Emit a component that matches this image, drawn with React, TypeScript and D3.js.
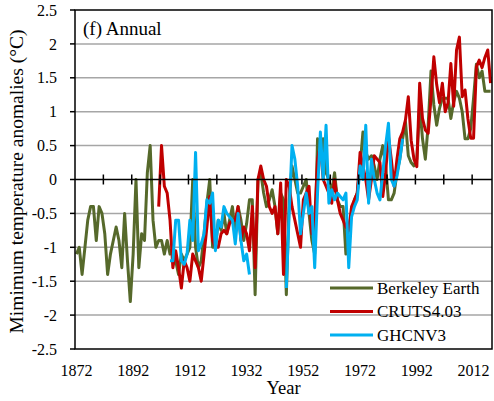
import * as d3 from "d3";

// Annual minimum temperature anomalies (°C)
const berkeleyStart = 1872;
const berkeley = [
  -1.1, -1.0, -1.4, -1.0, -0.6, -0.4, -0.4, -0.9, -0.4, -0.5, // 1872-1881
  -0.8, -1.4, -1.1, -0.9, -0.7, -0.9, -1.3, -0.5, -1.2, -1.8, // 1882-1891
  -1.1, 0.0, -1.3, -0.8, -0.9, 0.1, 0.5, -0.6, -1.0, -0.9, // 1892-1901
  -0.9, -1.1, -0.9, -1.1, -1.0, -1.2, -1.4, -1.1, -1.2, -1.1, // 1902-1911
  -1.0, 0.0, -1.0, -1.3, -1.2, -0.8, -0.35, 0.0, -1.0, -1.0, // 1912-1921
  -0.6, -0.75, -0.5, -0.8, -0.6, -0.4, -0.8, -0.4, -0.6, -0.9, // 1922-1931
  -0.65, -0.3, -0.3, -1.7, 0.0, 0.1, -0.2, -0.4, -0.3, -0.15, // 1932-1941
  -0.4, -0.8, -0.2, -0.3, -1.7, -0.3, 0.2, 0.0, -0.2, -0.2, // 1942-1951
  -0.1, 0.0, -0.5, -0.9, -1.1, 0.6, 0.3, 0.6, 0.1, 0.0, // 1952-1961
  -0.2, 0.1, -0.3, -0.4, -0.4, -1.1, -0.7, -0.5, -0.3, -0.2, // 1962-1971
  0.2, 0.7, 0.4, 0.3, 0.35, 0.2, 0.0, 0.3, 0.5, 0.2, // 1972-1981
  -0.3, -0.3, -0.2, 0.1, 0.3, 0.6, 0.85, 0.35, 0.25, 0.2, // 1982-1991
  0.3, 1.1, 0.6, 0.3, 0.8, 1.6, 1.1, 0.8, 1.05, 1.2, // 1992-2001
  1.2, 1.2, 0.9, 1.15, 1.3, 1.2, 1.0, 0.6, 0.6, 0.75, // 2002-2011
  1.2, 1.7, 1.5, 1.6, 1.3, 1.3, 1.3, // 2012-2018
];

const crutsStart = 1901;
const cruts = [
  -0.4, 0.5, -0.1, -0.2, -0.6, -1.3, -1.05, -1.3, -1.6, -1.2, // 1901-1910
  -1.3, -1.5, -1.1, -1.2, -1.3, -1.5, -1.1, -0.7, -0.25, -0.9, // 1911-1920
  -1.0, -1.0, -0.8, -0.75, -0.8, -0.65, -0.6, -0.6, -0.4, -0.9, // 1921-1930
  -0.7, -0.8, -1.05, -0.4, -1.3, 0.0, 0.2, 0.0, -0.1, -0.4, // 1931-1940
  -0.5, -0.4, -0.8, -0.05, -1.4, 0.0, -0.1, -0.4, -0.6, -0.8, // 1941-1950
  -1.0, -0.3, -0.2, -0.1, -0.8, -0.6, 0.3, 0.5, 0.0, -0.1, // 1951-1960
  -0.2, -0.35, 0.0, -0.3, -0.5, -0.6, -0.7, -0.75, -0.4, -0.3, // 1961-1970
  -0.2, 0.4, 0.2, 0.0, -0.3, 0.0, 0.35, 0.3, 0.25, -0.25, // 1971-1980
  0.1, 0.63, 0.3, -0.1, 0.3, 0.6, 0.7, 0.88, 1.22, 0.58, // 1981-1990
  0.3, 0.19, 1.42, 0.9, 0.73, 0.68, 1.2, 1.81, 1.4, 1.13, // 1991-2000
  1.42, 1.0, 1.13, 1.71, 1.08, 1.91, 2.1, 1.22, 1.32, 0.9, // 2001-2010
  0.61, 0.61, 1.66, 1.76, 1.65, 1.8, 1.91, 1.42, // 2011-2018
];

const ghcnStart = 1905;
const ghcn: (number | null)[] = [
  -1.2, -1.2, -0.6, -0.6, -1.2, -1.25, -1.1, -0.6, -0.9, 0.4, // 1905-1914
  -1.05, -0.95, -0.8, -0.3, -0.35, -0.2, -1.05, -0.6, -0.7, -0.4, // 1915-1924
  -0.5, -0.55, -0.6, -0.95, -0.5, -0.9, -1.2, -1.1, -1.4, null, // 1925-1934
  null, null, null, null, null, null, null, null, null, null, // 1935-1944
  null, -1.6, -0.5, 0.5, 0.3, -0.1, -0.8, -0.5, -0.2, -0.5, // 1945-1954
  -0.4, -1.3, -0.2, 0.7, 0.0, 0.8, -0.35, -0.15, -0.3, -0.2, // 1955-1964
  -0.25, -0.3, -0.2, -1.3, -0.55, -0.4, -0.3, 0.2, 0.0, 0.8, // 1965-1974
  -0.35, 0.3, 0.0, -0.2, -0.3, 0.1, 0.5, 0.83, 0.0, -0.1, // 1975-1984
  0.05, 0.3, 0.6, // 1985-1987
];

const yTicks = [-2.5, -2, -1.5, -1, -0.5, 0, 0.5, 1, 1.5, 2, 2.5];
const xLabels = [1872, 1892, 1912, 1932, 1952, 1972, 1992, 2012];

const series = [
  { name: "Berkeley Earth", start: berkeleyStart, values: berkeley, color: "#56692b" },
  { name: "CRUTS4.03", start: crutsStart, values: cruts, color: "#c00000" },
  { name: "GHCNV3", start: ghcnStart, values: ghcn, color: "#00b0f0" },
];

const W = 494;
const H = 401;
const m = { left: 75, right: 492, top: 10, bottom: 349 };
const font = "'Liberation Serif', 'Times New Roman', serif";

export default function App() {
  const x = d3.scaleLinear().domain([1871.5, 2018.5]).range([m.left, m.right]);
  const y = d3.scaleLinear().domain([-2.5, 2.5]).range([m.bottom, m.top]);

  const line = d3
    .line<[number, number | null]>()
    .defined((d) => d[1] !== null)
    .x((d) => x(d[0]))
    .y((d) => y(d[1] as number));

  // tick marks sit on the category boundaries every 10 years
  const decadeTicks = d3.range(1881.5, 2018, 10);

  return (
    <svg
      width={W}
      height={H}
      style={{ position: "absolute", left: 0, top: 0, background: "#fff" }}
      fontFamily={font}
    >
      {/* grid */}
      {yTicks
        .filter((t) => t !== 0 && t !== 2.5 && t !== -2.5)
        .map((t) => (
          <line key={t} x1={m.left} x2={m.right} y1={y(t)} y2={y(t)} stroke="#a6a6a6" strokeWidth={1.5} />
        ))}

      {/* series */}
      {series.map((s) => (
        <path
          key={s.name}
          d={line(s.values.map((v, i) => [s.start + i, v] as [number, number | null])) || ""}
          fill="none"
          stroke={s.color}
          strokeWidth={3}
          strokeLinejoin="round"
        />
      ))}

      {/* zero line with crossing ticks */}
      <line x1={m.left} x2={m.right} y1={y(0)} y2={y(0)} stroke="#000" strokeWidth={1.5} />
      {decadeTicks.map((t) => (
        <line key={t} x1={x(t)} x2={x(t)} y1={y(0) - 5} y2={y(0) + 5} stroke="#000" strokeWidth={1.5} />
      ))}

      {/* frame */}
      <rect
        x={m.left}
        y={m.top}
        width={m.right - m.left}
        height={m.bottom - m.top}
        fill="none"
        stroke="#000"
        strokeWidth={1.5}
      />

      {/* y axis */}
      {yTicks.map((t) => (
        <g key={t}>
          <line x1={m.left - 5} x2={m.left} y1={y(t)} y2={y(t)} stroke="#000" strokeWidth={1.5} />
          <text x={57} y={y(t)} dy="0.35em" textAnchor="end" fontSize={16}>
            {t}
          </text>
        </g>
      ))}

      {/* x labels */}
      {xLabels.map((yr) => (
        <text key={yr} x={x(yr)} y={376} textAnchor="middle" fontSize={16}>
          {yr}
        </text>
      ))}

      <text x={(m.left + m.right) / 2} y={394} textAnchor="middle" fontSize={18.5}>
        Year
      </text>
      <text
        transform={`translate(23,${(m.top + m.bottom) / 2 + 2}) rotate(-90)`}
        textAnchor="middle"
        fontSize={19.5}
      >
        Mimimum temperature anomalies (°C)
      </text>

      <text x={83} y={35} fontSize={19}>
        (f) Annual
      </text>

      {/* legend */}
      {series.map((s, i) => (
        <g key={s.name} transform={`translate(330,${288 + i * 23.5})`}>
          <line x1={0} x2={43} y1={0} y2={0} stroke={s.color} strokeWidth={3} />
          <text x={47} y={0} dy="0.35em" fontSize={17}>
            {s.name}
          </text>
        </g>
      ))}
    </svg>
  );
}
